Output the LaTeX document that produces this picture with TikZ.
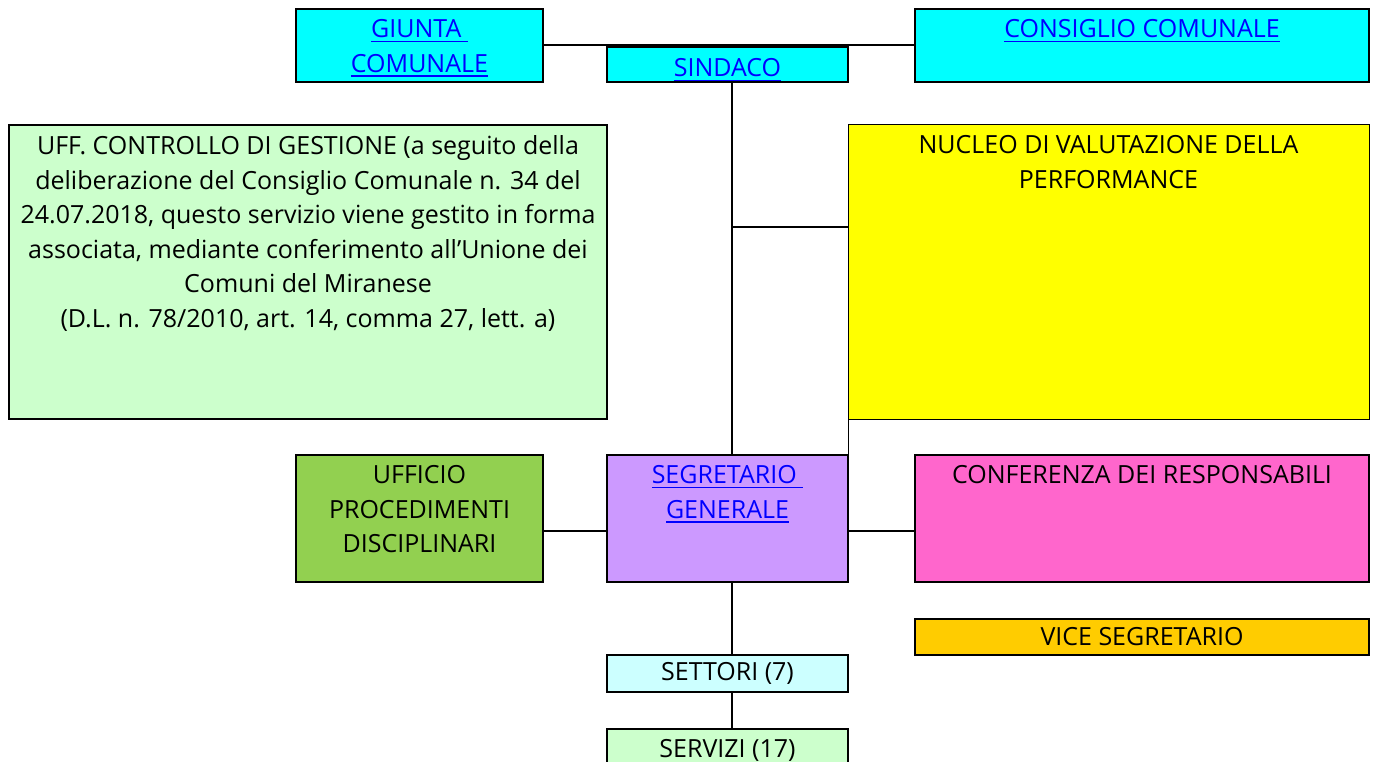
\documentclass[tikz,border=0pt]{standalone}
\usepackage{fontspec}
\setmainfont{Open Sans}
\definecolor{cyanbox}{RGB}{0,255,255}
\definecolor{linkblue}{RGB}{0,0,255}
\definecolor{palegreen}{RGB}{204,255,204}
\definecolor{nucleoyellow}{RGB}{255,255,0}
\definecolor{updgreen}{RGB}{146,208,80}
\definecolor{segrlilac}{RGB}{204,153,255}
\definecolor{confpink}{RGB}{255,102,204}
\definecolor{viceorange}{RGB}{255,204,0}
\definecolor{settcyan}{RGB}{204,255,255}
\newcommand{\lnk}[1]{\textcolor{linkblue}{\setbox0\hbox{#1}\rlap{\rule[-4.5pt]{\wd0}{1.6pt}}\box0}}

\begin{document}
\begin{tikzpicture}[x=1pt,y=-1pt,line width=2pt,
  box/.style={draw,anchor=north west,inner sep=0pt,outer sep=0pt},
  txt/.style={font=\fontsize{25}{34.6}\selectfont},
  lbl/.style={txt,anchor=north,inner sep=0pt,yshift=-9.5pt,align=center}]
  \useasboundingbox (0,0) rectangle (1374,762);

  % top row
  \node[box,fill=cyanbox,minimum width=247pt,minimum height=73pt,
    label={[lbl]north:{\lnk{GIUNTA\ }\\\lnk{COMUNALE}}}] (giunta) at (296,9) {};
  \node[box,fill=cyanbox,minimum width=241pt,minimum height=35pt,
    label={[lbl,yshift=-1pt]north:{\lnk{SINDACO}}}] (sindaco) at (607,47) {};
  \node[box,fill=cyanbox,minimum width=454pt,minimum height=73pt,
    label={[lbl]north:{\lnk{CONSIGLIO COMUNALE}}}] (consiglio) at (915,9) {};

  % middle row
  \node[box,fill=palegreen,minimum width=598pt,minimum height=294pt,
    label={[lbl]north:{UFF. CONTROLLO DI GESTIONE (a seguito della\\
      deliberazione del Consiglio Comunale n. 34 del\\
      24.07.2018, questo servizio viene gestito in forma\\
      associata, mediante conferimento all’Unione dei\\
      Comuni del Miranese\\
      (D.L. n. 78/2010, art. 14, comma 27, lett. a)}}] (controllo) at (9,125) {};
  \node[box,fill=nucleoyellow,line width=1pt,minimum width=521pt,minimum height=294pt,
    label={[lbl]north:{NUCLEO DI VALUTAZIONE DELLA\\PERFORMANCE}}] (nucleo) at (848,125) {};

  % segretario row
  \node[box,fill=updgreen,minimum width=247pt,minimum height=127pt,
    label={[lbl]north:{UFFICIO\\PROCEDIMENTI\\DISCIPLINARI}}] (upd) at (296,455) {};
  \node[box,fill=segrlilac,minimum width=241pt,minimum height=127pt,
    label={[lbl]north:{\lnk{SEGRETARIO\ }\\\lnk{GENERALE}}}] (segretario) at (607,455) {};
  \node[box,fill=confpink,minimum width=454pt,minimum height=127pt,
    label={[lbl]north:{CONFERENZA DEI RESPONSABILI}}] (conferenza) at (915,455) {};

  % bottom
  \node[box,fill=viceorange,minimum width=454pt,minimum height=36pt,txt] (vice) at (915,619) {VICE SEGRETARIO};
  \node[box,fill=settcyan,minimum width=241pt,minimum height=37pt,txt] (settori) at (607,655) {SETTORI (7)};
  \node[box,fill=palegreen,minimum width=241pt,minimum height=40pt,
    label={[lbl]north:{SERVIZI (17)}}] (servizi) at (607,729) {};

  % connectors
  \coordinate (nv) at (732,227);
  \draw (giunta.east) -- (consiglio.west);
  \draw (sindaco.south -| nv) -- (segretario.north -| nv);
  \draw (nv) -- (nv -| nucleo.west);
  \draw[line width=1pt] (nucleo.south west) -- (segretario.north east);
  \draw ([yshift=-12.5pt]upd.east) -- ([yshift=-12.5pt]segretario.west);
  \draw ([yshift=-12.5pt]segretario.east) -- ([yshift=-12.5pt]conferenza.west);
  \draw (segretario.south -| nv) -- (settori.north -| nv);
  \draw (settori.south -| nv) -- (servizi.north -| nv);
\end{tikzpicture}
\end{document}
